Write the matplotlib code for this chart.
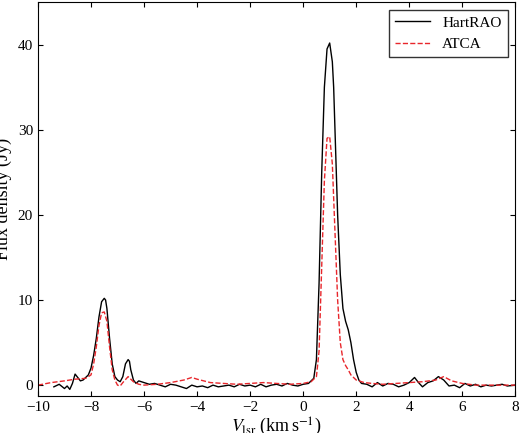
import matplotlib
matplotlib.use("Agg")
import matplotlib.pyplot as plt

plt.rcParams['font.family'] = ['Liberation Serif', 'DejaVu Serif']
plt.rcParams['mathtext.fontset'] = 'stix'

hart_v = [-9.4,-9.2,-9.0,-8.9,-8.8,-8.7,-8.6,-8.5,-8.4,-8.3,-8.2,-8.1,-8.0,-7.9,-7.8,-7.7,-7.6,-7.5,-7.45,-7.4,-7.3,-7.2,-7.1,-7.0,-6.9,-6.8,-6.7,-6.6,-6.55,-6.5,-6.4,-6.3,-6.2,-6.0,-5.8,-5.6,-5.4,-5.2,-5.0,-4.8,-4.6,-4.4,-4.2,-4.0,-3.8,-3.6,-3.4,-3.2,-3.0,-2.8,-2.6,-2.4,-2.2,-2.0,-1.8,-1.6,-1.4,-1.2,-1.0,-0.8,-0.6,-0.4,-0.2,0.0,0.2,0.4,0.5,0.6,0.7,0.8,0.9,1.0,1.1,1.15,1.2,1.3,1.4,1.5,1.6,1.7,1.8,1.9,2.0,2.1,2.2,2.4,2.6,2.8,3.0,3.2,3.4,3.6,3.8,4.0,4.2,4.35,4.5,4.7,4.9,5.1,5.3,5.5,5.7,5.9,6.1,6.3,6.5,6.7,6.9,7.1,7.3,7.5,7.7,8.0]
hart_f = [-0.2,0.1,-0.4,-0.1,-0.5,0.2,1.3,0.9,0.5,0.6,0.9,1.2,2.0,3.5,5.5,8.0,9.8,10.2,10.0,9.0,5.5,2.5,1.0,0.6,0.4,1.0,2.5,3.0,2.8,1.8,0.6,0.2,0.5,0.3,0.1,0.2,0.0,-0.2,0.1,0.0,-0.2,-0.4,0.0,-0.2,-0.1,-0.3,0.0,-0.2,-0.1,0.0,-0.2,0.1,-0.1,0.0,-0.2,0.1,-0.2,0.0,0.1,-0.1,0.2,0.0,-0.1,0.1,0.2,0.8,3.0,12.0,25.0,35.0,39.5,40.2,38.0,35.0,30.0,20.0,13.0,9.0,7.5,6.5,5.0,3.0,1.5,0.6,0.2,0.1,-0.2,0.3,-0.1,0.2,0.1,-0.2,0.0,0.3,0.9,0.3,-0.2,0.3,0.5,1.0,0.6,-0.1,0.0,-0.3,0.2,-0.1,0.1,-0.2,0.0,-0.1,0.0,0.1,-0.1,0.0]

atca_v = [-10.0,-9.5,-9.0,-8.6,-8.2,-8.0,-7.9,-7.8,-7.7,-7.6,-7.5,-7.4,-7.3,-7.2,-7.1,-7.0,-6.9,-6.8,-6.6,-6.4,-6.2,-6.0,-5.5,-5.0,-4.5,-4.2,-4.0,-3.5,-3.0,-2.5,-2.0,-1.5,-1.0,-0.5,0.0,0.3,0.5,0.6,0.7,0.8,0.9,1.0,1.1,1.2,1.3,1.4,1.5,1.6,1.7,1.8,2.0,2.3,2.6,3.0,3.5,4.0,4.5,5.0,5.3,5.6,6.0,6.5,7.0,7.5,8.0]
atca_f = [0.0,0.3,0.5,0.7,0.8,1.2,2.5,4.5,7.0,8.5,8.6,7.5,4.5,1.8,0.6,0.0,-0.1,0.3,1.0,0.4,0.1,0.0,0.1,0.3,0.6,0.9,0.7,0.3,0.2,0.1,0.2,0.3,0.2,0.1,0.2,0.4,1.0,4.0,14.0,24.0,29.0,29.2,26.0,18.0,10.0,5.0,3.0,2.3,1.8,1.2,0.6,0.3,0.2,0.1,0.2,0.3,0.4,0.6,1.0,0.5,0.2,0.0,0.0,0.0,0.0]

fig = plt.figure(figsize=(5.2, 4.33), dpi=100)
ax = fig.add_axes([0.073, 0.085, 0.918, 0.91])
ax.plot(hart_v, hart_f, color='black', lw=1.0, label='HartRAO')
ax.plot(atca_v, atca_f, color='#e8262b', lw=1.0, ls='--', label='ATCA')
ax.set_xlim(-10, 8)
ax.set_ylim(-1.3, 45)
ax.set_xticks(range(-10, 9, 2))
ax.set_yticks([0, 10, 20, 30, 40])
ax.set_xlabel(r'$V_{\rm lsr}$ (km$\,$s$^{-1}$)', fontsize=13, labelpad=1)
ax.set_ylabel('Flux density (Jy)', fontsize=13)
ax.tick_params(labelsize=11, direction='in', top=True, right=True)
ax.legend(loc='upper right', fontsize=11, fancybox=False, edgecolor='black', handlelength=2.3)
fig.savefig('out.png', dpi=100)
